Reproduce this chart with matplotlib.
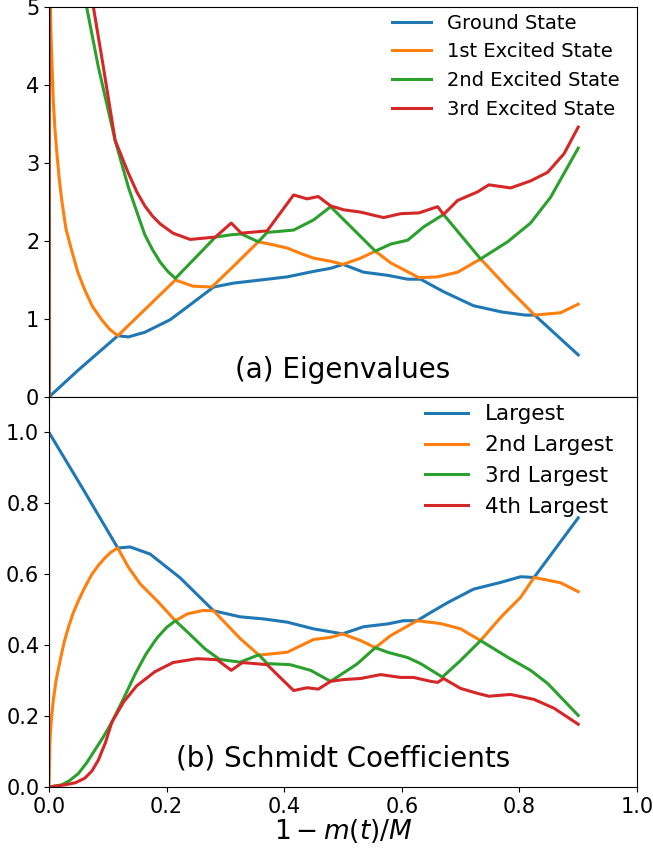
import matplotlib
matplotlib.use("Agg")
import matplotlib.pyplot as plt

# ---- (a) eigenvalues, sorted levels (kinks are level crossings) ----
ground_x = [0, 0.05, 0.117, 0.135, 0.163, 0.206, 0.245, 0.28, 0.314, 0.36, 0.405, 0.45,
            0.479, 0.50, 0.535, 0.576, 0.61, 0.632, 0.671, 0.722, 0.77, 0.81, 0.826, 0.90]
ground_y = [0, 0.346, 0.785, 0.77, 0.83, 0.99, 1.21, 1.41, 1.46, 1.50, 1.54, 1.61,
            1.65, 1.70, 1.60, 1.56, 1.51, 1.51, 1.35, 1.17, 1.09, 1.05, 1.05, 0.54]

exc1_x = [0, 0.0015, 0.0025, 0.0034, 0.005, 0.0073, 0.01, 0.013, 0.017, 0.0216, 0.029,
          0.0386, 0.049, 0.061, 0.074, 0.0897, 0.103, 0.117, 0.215,
          0.245, 0.277, 0.313, 0.356, 0.382, 0.405, 0.428, 0.45, 0.479, 0.50, 0.53, 0.555,
          0.581, 0.629, 0.661, 0.695, 0.734, 0.78, 0.826, 0.87, 0.90]
exc1_y = [0, 5.5, 5.0, 4.66, 4.3, 3.81, 3.45, 3.17, 2.83, 2.53, 2.15,
          1.88, 1.6, 1.37, 1.16, 0.99, 0.87, 0.785, 1.50,
          1.42, 1.41, 1.67, 1.99, 1.95, 1.91, 1.84, 1.78, 1.74, 1.70, 1.78, 1.87,
          1.72, 1.53, 1.54, 1.60, 1.77, 1.40, 1.05, 1.08, 1.19]

exc2_x = [0, 0.001, 0.055, 0.064, 0.084, 0.1125, 0.135, 0.15, 0.163, 0.176, 0.189, 0.202,
          0.215, 0.283, 0.31, 0.327, 0.356, 0.371, 0.416, 0.45, 0.479, 0.555, 0.581, 0.61,
          0.637, 0.671, 0.734, 0.78, 0.819, 0.853, 0.90]
exc2_y = [0, 60, 5.5, 5.0, 4.23, 3.29, 2.69, 2.36, 2.08, 1.89, 1.73, 1.61,
          1.52, 2.05, 2.08, 2.09, 1.99, 2.11, 2.14, 2.27, 2.44, 1.87, 1.96, 2.01,
          2.18, 2.34, 1.77, 1.99, 2.23, 2.56, 3.19]

exc3_x = [0, 0.001, 0.066, 0.0755, 0.0925, 0.1125, 0.135, 0.15, 0.163, 0.176, 0.189, 0.211,
          0.24, 0.283, 0.31, 0.327, 0.371, 0.416, 0.439, 0.458, 0.479, 0.501, 0.53, 0.569,
          0.598, 0.629, 0.661, 0.671, 0.695, 0.729, 0.748, 0.785, 0.819, 0.848, 0.876, 0.90]
exc3_y = [0, 60, 5.5, 5.0, 4.23, 3.29, 2.87, 2.62, 2.45, 2.32, 2.22, 2.10,
          2.02, 2.05, 2.23, 2.10, 2.13, 2.59, 2.54, 2.57, 2.45, 2.40, 2.37, 2.30,
          2.35, 2.36, 2.44, 2.34, 2.52, 2.63, 2.72, 2.68, 2.77, 2.88, 3.12, 3.46]

# ---- (b) Schmidt coefficients ----
sc1_x = [0, 0.058, 0.117, 0.138, 0.172, 0.223, 0.28, 0.325, 0.365, 0.405, 0.45, 0.499,
         0.535, 0.576, 0.603, 0.626, 0.649, 0.678, 0.722, 0.768, 0.802, 0.825, 0.90]
sc1_y = [1.0, 0.84, 0.674, 0.677, 0.657, 0.59, 0.497, 0.48, 0.474, 0.465, 0.446, 0.432,
         0.452, 0.46, 0.469, 0.469, 0.492, 0.52, 0.558, 0.577, 0.593, 0.591, 0.759]

sc2_x = [0, 0.0017, 0.004, 0.0073, 0.012, 0.019, 0.026, 0.033, 0.041, 0.05, 0.06, 0.073,
         0.084, 0.095, 0.106, 0.117, 0.135, 0.155, 0.184, 0.215,
         0.235, 0.262, 0.28, 0.325, 0.357, 0.405, 0.45, 0.479, 0.499, 0.53, 0.555, 0.581,
         0.626, 0.666, 0.70, 0.734, 0.768, 0.802, 0.825, 0.87, 0.90]
sc2_y = [0, 0.132, 0.19, 0.244, 0.30, 0.357, 0.41, 0.45, 0.49, 0.525, 0.56, 0.60,
         0.625, 0.646, 0.663, 0.674, 0.62, 0.573, 0.525, 0.469,
         0.488, 0.498, 0.497, 0.419, 0.372, 0.38, 0.416, 0.422, 0.432, 0.413, 0.393, 0.427,
         0.469, 0.461, 0.446, 0.413, 0.478, 0.535, 0.591, 0.576, 0.551]

sc3_x = [0, 0.0216, 0.035, 0.05, 0.064, 0.078, 0.092, 0.107, 0.127, 0.147, 0.165, 0.184,
         0.2, 0.215, 0.24, 0.265, 0.29, 0.325,
         0.357, 0.371, 0.41, 0.445, 0.479, 0.524, 0.555, 0.576, 0.61, 0.632, 0.669, 0.70,
         0.734, 0.78, 0.819, 0.848, 0.90]
sc3_y = [0, 0.006, 0.018, 0.038, 0.068, 0.104, 0.14, 0.183, 0.25, 0.32, 0.375, 0.421,
         0.45, 0.469, 0.43, 0.39, 0.36, 0.352,
         0.373, 0.348, 0.345, 0.329, 0.298, 0.347, 0.393, 0.38, 0.365, 0.348, 0.31, 0.357,
         0.413, 0.366, 0.329, 0.292, 0.202]

sc4_x = [0, 0.027, 0.045, 0.061, 0.073, 0.084, 0.096, 0.107, 0.127, 0.149, 0.18, 0.211,
         0.252, 0.286, 0.31, 0.329,
         0.371, 0.416, 0.439, 0.458, 0.479, 0.501, 0.53, 0.564, 0.598, 0.62, 0.649, 0.661,
         0.671, 0.70, 0.729, 0.748, 0.785, 0.825, 0.859, 0.90]
sc4_y = [0, 0.006, 0.012, 0.025, 0.045, 0.076, 0.125, 0.183, 0.24, 0.285, 0.325, 0.351,
         0.362, 0.359, 0.329, 0.351,
         0.345, 0.272, 0.28, 0.276, 0.298, 0.303, 0.306, 0.317, 0.309, 0.309, 0.298, 0.295,
         0.306, 0.278, 0.264, 0.256, 0.261, 0.247, 0.222, 0.177]

eig_labels = ["Ground State", "1st Excited State", "2nd Excited State", "3rd Excited State"]
sc_labels = ["Largest", "2nd Largest", "3rd Largest", "4th Largest"]

fig, (ax1, ax2) = plt.subplots(2, 1, sharex=True, figsize=(6.53, 8.52), dpi=100)
fig.subplots_adjust(left=0.075, right=0.9755, top=0.9918, bottom=0.0763, hspace=0)

lw = 2.2
for xs, ys, lab in zip([ground_x, exc1_x, exc2_x, exc3_x],
                       [ground_y, exc1_y, exc2_y, exc3_y], eig_labels):
    ax1.plot(xs, ys, lw=lw, label=lab)
ax1.set_ylim(0, 5)
ax1.set_xlim(0, 1)
ax1.tick_params(labelsize=15)
ax1.legend(loc="upper right", bbox_to_anchor=(1.0, 1.028), fontsize=14, frameon=False)
ax1.text(0.5, 0.07, "(a) Eigenvalues", fontsize=20, ha="center", va="center",
         transform=ax1.transAxes)

for xs, ys, lab in zip([sc1_x, sc2_x, sc3_x, sc4_x],
                       [sc1_y, sc2_y, sc3_y, sc4_y], sc_labels):
    ax2.plot(xs, ys, lw=lw, label=lab)
ax2.set_ylim(0, 1.1)
ax2.tick_params(labelsize=15)
ax2.legend(loc="upper right", bbox_to_anchor=(0.993, 1.031), fontsize=15.5, frameon=False)
ax2.text(0.5, 0.074, "(b) Schmidt Coefficients", fontsize=20, ha="center", va="center",
         transform=ax2.transAxes)
ax2.set_xlabel(r"$1-m(t)/M$", fontsize=19, labelpad=0)

fig.savefig("out.png", dpi=100)
